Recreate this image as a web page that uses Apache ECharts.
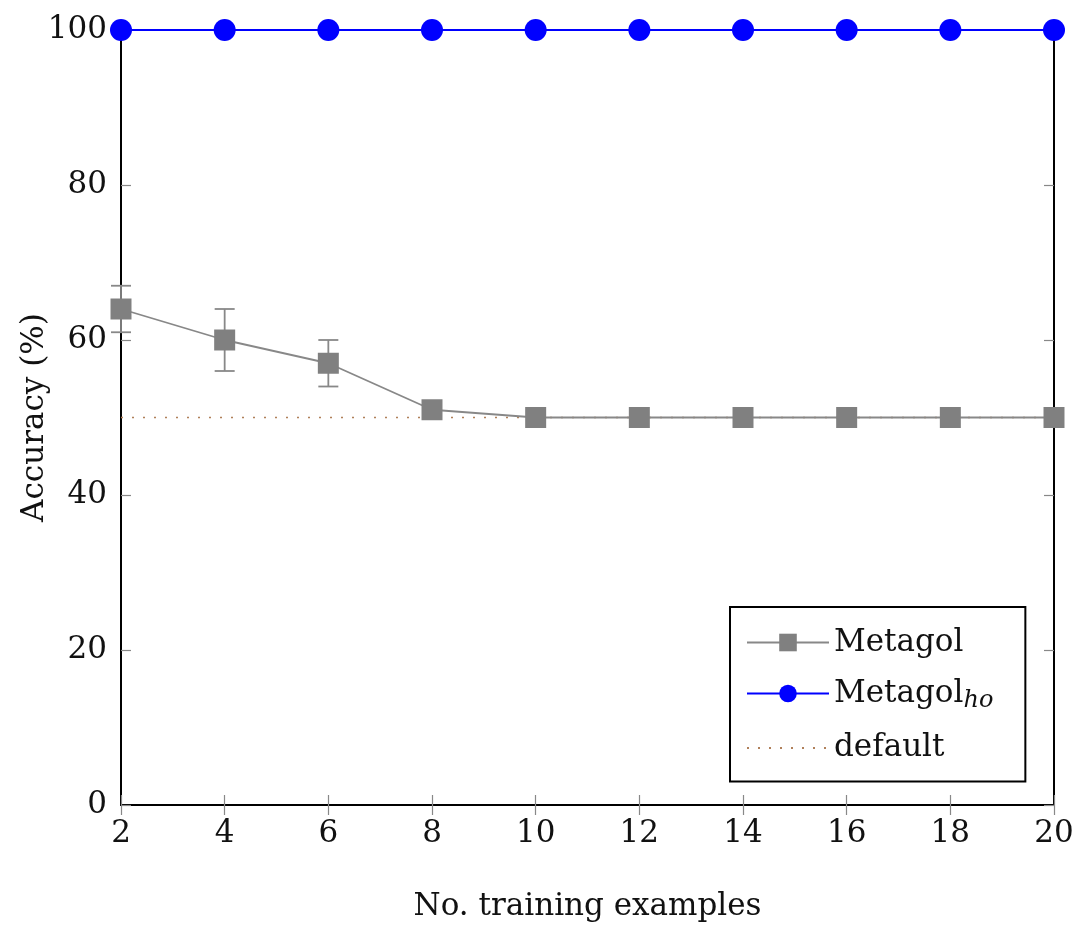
<!DOCTYPE html>
<html>
<head>
<meta charset="utf-8">
<script src="https://cdn.jsdelivr.net/npm/echarts@6/dist/echarts.min.js"></script>
<style>
html,body{margin:0;padding:0;background:#fff;}
#c{width:1081px;height:925px;}
</style>
</head>
<body>
<div id="c"></div>
<script>
const xValues = [2, 4, 6, 8, 10, 12, 14, 16, 18, 20];
const metagol = [64, 60, 57, 51, 50, 50, 50, 50, 50, 50];
const metagolErr = [3, 4, 3, 0, 0, 0, 0, 0, 0, 0];
const metagolHo = [100, 100, 100, 100, 100, 100, 100, 100, 100, 100];
const defaultAcc = [50, 50, 50, 50, 50, 50, 50, 50, 50, 50];

const FONT = 'DejaVu Serif';
const chart = echarts.init(document.getElementById('c'), null, {renderer: 'canvas'});

const pairs = (ys) => xValues.map((x, i) => [x, ys[i]]);
const errData = xValues.map((x, i) => [x, metagol[i], metagolErr[i]]);

const tickStyle = {show: true, inside: true, length: 10, lineStyle: {color: '#888', width: 1.2}};

chart.setOption({
  animation: false,
  backgroundColor: '#fff',
  grid: {left: 121, right: 27, top: 30, bottom: 120, show: true, borderColor: '#000', borderWidth: 2,
         backgroundColor: 'transparent', containLabel: false, outerBoundsMode: 'none'},
  xAxis: [{
    type: 'value', min: 2, max: 20, interval: 2,
    name: 'No. training examples', nameLocation: 'middle', nameGap: 86, nameMoveOverlap: false,
    nameTextStyle: {fontFamily: FONT, fontSize: 31, color: '#111'},
    axisLine: {show: true, lineStyle: {color: '#000', width: 2}},
    axisTick: tickStyle,
    axisLabel: {fontFamily: FONT, fontSize: 31, color: '#111', margin: 13},
    splitLine: {show: false}
  }, {
    type: 'value', min: 2, max: 20, interval: 2, position: 'top',
    axisLine: {show: false}, axisTick: tickStyle, axisLabel: {show: false}, splitLine: {show: false}
  }],
  yAxis: [{
    type: 'value', min: 0, max: 100, interval: 20,
    name: 'Accuracy (%)', nameLocation: 'middle', nameGap: 71, nameRotate: 90, nameMoveOverlap: false,
    nameTextStyle: {fontFamily: FONT, fontSize: 31, color: '#111'},
    axisLine: {show: true, lineStyle: {color: '#000', width: 2}},
    axisTick: tickStyle,
    axisLabel: {fontFamily: FONT, fontSize: 31, color: '#111', margin: 14},
    splitLine: {show: false}
  }, {
    type: 'value', min: 0, max: 100, interval: 20, position: 'right',
    axisLine: {show: false}, axisTick: tickStyle, axisLabel: {show: false}, splitLine: {show: false}
  }],
  legend: {
    left: 730, top: 607,
    orient: 'vertical',
    backgroundColor: '#fff', borderColor: '#000', borderWidth: 2, borderRadius: 0,
    padding: [20, 32, 18, 16],
    itemWidth: 82, itemHeight: 22, itemGap: 20,
    data: ['Metagol', 'Metagol_ho', 'default'],
    formatter: function (name) {
      if (name === 'Metagol_ho') return 'Metagol{sub|ho}';
      return name;
    },
    textStyle: {
      fontFamily: FONT, fontSize: 31, color: '#111',
      rich: {sub: {fontFamily: FONT, fontStyle: 'italic', fontSize: 24, color: '#111', verticalAlign: 'bottom', padding: [14, 0, 0, 0]}}
    }
  },
  series: [
    {
      name: 'default', type: 'line', data: pairs(defaultAcc), symbol: 'circle', showSymbol: false,
      lineStyle: {color: '#b0805a', width: 1.5, type: [2, 9]},
      itemStyle: {color: 'rgba(0,0,0,0)'}, z: 1
    },
    {
      name: 'errbars', type: 'custom', data: errData, z: 2,
      renderItem: function (params, api) {
        const x = api.value(0), y = api.value(1), e = api.value(2);
        if (!e) return null;
        const top = api.coord([x, y + e]);
        const bot = api.coord([x, y - e]);
        const hw = 10;
        const style = {stroke: '#888', lineWidth: 1.8};
        return {type: 'group', children: [
          {type: 'line', shape: {x1: top[0], y1: top[1], x2: bot[0], y2: bot[1]}, style: style},
          {type: 'line', shape: {x1: top[0] - hw, y1: top[1], x2: top[0] + hw, y2: top[1]}, style: style},
          {type: 'line', shape: {x1: bot[0] - hw, y1: bot[1], x2: bot[0] + hw, y2: bot[1]}, style: style}
        ]};
      },
      encode: {x: 0, y: 1}
    },
    {
      name: 'Metagol', type: 'line', data: pairs(metagol),
      symbol: 'rect', symbolSize: 21,
      lineStyle: {color: '#888', width: 1.8},
      itemStyle: {color: '#808080'}, z: 3
    },
    {
      name: 'Metagol_ho', type: 'line', data: pairs(metagolHo),
      symbol: 'circle', symbolSize: 22,
      lineStyle: {color: '#0000ff', width: 1.8},
      itemStyle: {color: '#0000ff'}, z: 4, clip: false
    }
  ]
});
</script>
</body>
</html>
